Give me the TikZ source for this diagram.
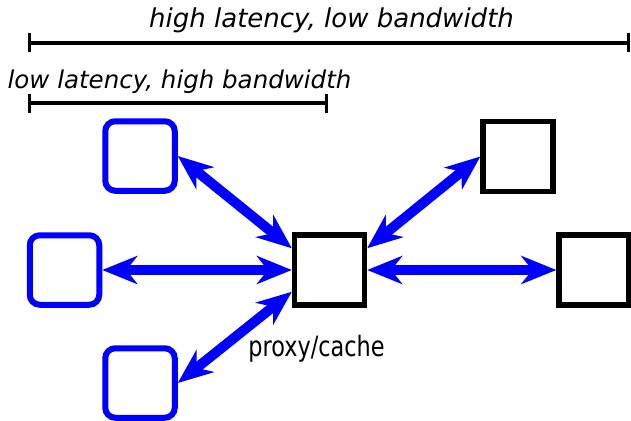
\documentclass[tikz,border=0pt]{standalone}
\usepackage{fontspec}
\setmainfont{DejaVu Sans}
\newfontfamily\narrowsans[FakeStretch=0.8]{DejaVu Sans}
\usetikzlibrary{arrows.meta}
\definecolor{pureblue}{RGB}{0,0,255}
\tikzset{
  bluebox/.style={draw=pureblue, line width=6pt, rounded corners=10pt, minimum size=69.5pt, inner sep=0pt, fill=white},
  blackbox/.style={draw=black, line width=5.3pt, minimum size=70pt, inner sep=0pt, fill=white},
  link/.style={draw=pureblue, line width=10pt, {Stealth[length=35pt,width=28pt,inset=11pt]}-{Stealth[length=35pt,width=28pt,inset=11pt]}},
  measure/.style={draw=black, line width=3.2pt, {Bar[width=19pt,line width=3pt]}-{Bar[width=19pt,line width=3pt]}},
  toplbl/.style={font=\fontsize{26pt}{30pt}\selectfont\itshape, inner sep=0pt, anchor=base},
  sublbl/.style={font=\fontsize{24.5pt}{28pt}\selectfont\itshape, inner sep=0pt, anchor=base},
  plainlbl/.style={font=\narrowsans\fontsize{28pt}{32pt}\selectfont, inner sep=0pt, anchor=base}
}
\begin{document}
\begin{tikzpicture}[x=1pt,y=-1pt]
\useasboundingbox (0,0) rectangle (631,420);
% labels and bars
\node[toplbl] (hl) at (331.5,28) {high latency, low bandwidth};
\coordinate (a1) at (28,43);
\coordinate (a2) at (629.5,43);
\draw[measure] (a1) -- (a2);
\node[sublbl] (ll) at (179.5,88) {low latency, high bandwidth};
\coordinate (b1) at (28,103);
\coordinate (b2) at (328,103);
\draw[measure] (b1) -- (b2);
% boxes
\node[bluebox] (tl) at (140,156) {};
\node[bluebox] (l) at (64.5,270) {};
\node[bluebox] (bl) at (140,383) {};
\node[blackbox] (p) at (329.5,270) {};
\node[blackbox] (tr) at (518,156.5) {};
\node[blackbox] (r) at (594,270) {};
\node[plainlbl] (pc) at (316.5,356) {proxy/cache};
% links
\draw[link] (tl.east) -- (p.150);
\draw[link] (l.east) -- (p.west);
\draw[link] (bl.east) -- (p.210);
\draw[link] (tr.west) -- (p.30);
\draw[link] (r.west) -- (p.east);
\end{tikzpicture}
\end{document}
